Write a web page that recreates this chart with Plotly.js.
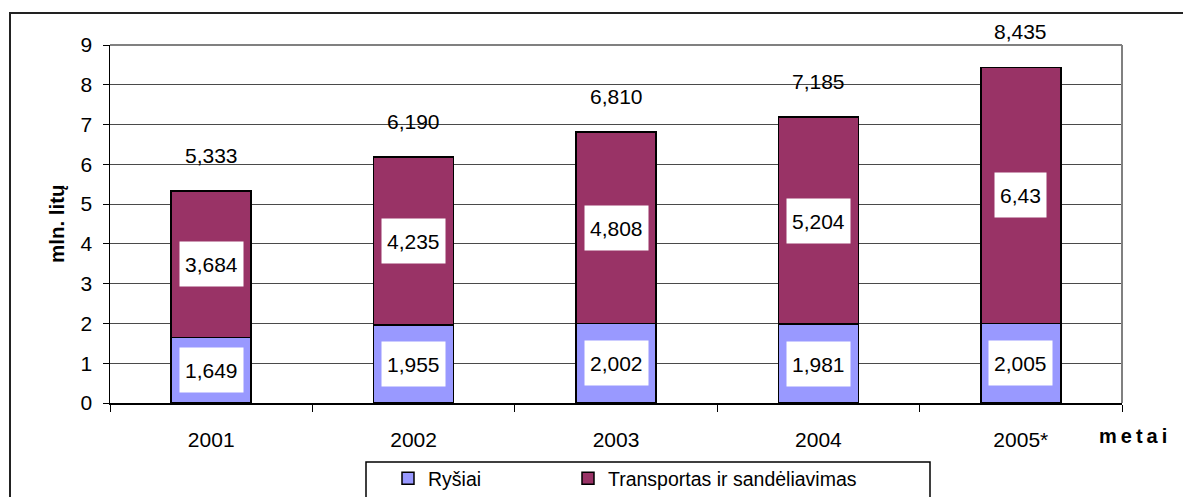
<!DOCTYPE html>
<html>
<head>
<meta charset="utf-8">
<script src="https://cdn.plot.ly/plotly-3.0.1.min.js"></script>
<style>
  html, body { margin: 0; padding: 0; background: #fff; }
  #myDiv { width: 1183px; height: 497px; }
</style>
</head>
<body>
<div id="myDiv"></div>
<script>
// duomenys (mln. litų)
let metai = ["2001", "2002", "2003", "2004", "2005*"]
let rysiai = [1.649, 1.955, 2.002, 1.981, 2.005]
let transportas = [3.684, 4.235, 4.808, 5.204, 6.43]
let yTicks = [0, 1, 2, 3, 4, 5, 6, 7, 8, 9]

let fontFam = "Liberation Sans, Arial, sans-serif"

function kablelis(v){
	return String(v).replace(".", ",")
	}

// paper coords from pixel positions of the plot area (110..1122, 45..403)
let plotL = 110, plotR = 1122, plotT = 45, plotB = 403
function px2x(p){ return (p - plotL) / (plotR - plotL) }
function px2y(p){ return (plotB - p) / (plotB - plotT) }

var data = [
	{
	x: metai,
	y: rysiai,
	name: "Ryšiai",
	type: "bar",
	legend: "legend",
	marker: { color: "#9999FF", line: { color: "#000", width: 1.5 } },
	hoverinfo: "skip"
	},
	{
	x: metai,
	y: transportas,
	name: "Transportas ir sandėliavimas",
	type: "bar",
	legend: "legend2",
	marker: { color: "#993366", line: { color: "#000", width: 1.5 } },
	hoverinfo: "skip"
	}
	]

let annotations = []
for (let i = 0; i < metai.length; i++){
	let suma = rysiai[i] + transportas[i]
	// white boxes inside the bars (x as category index)
	annotations.push({
		x: i, y: rysiai[i] / 2, xref: "x", yref: "y",
		text: kablelis(rysiai[i]), showarrow: false,
		bgcolor: "#fff", borderpad: 5, height: 34,
		font: { family: fontFam, size: 21, color: "#000" }
		})
	annotations.push({
		x: i, y: rysiai[i] + transportas[i] / 2, xref: "x", yref: "y",
		text: kablelis(transportas[i]), showarrow: false,
		bgcolor: "#fff", borderpad: 5, height: 34,
		font: { family: fontFam, size: 21, color: "#000" }
		})
	// totals above
	annotations.push({
		x: i, y: suma, xref: "x", yref: "y",
		text: suma.toFixed(3).replace(".", ","), showarrow: false,
		yanchor: "bottom", yshift: 22,
		font: { family: fontFam, size: 21, color: "#000" }
		})
	}

annotations.push({
	x: px2x(56), y: 0.5, xref: "paper", yref: "paper",
	text: "<b>mln. litų</b>", textangle: -90, showarrow: false,
	xanchor: "center", yanchor: "middle",
	font: { family: fontFam, size: 20.5, color: "#000" }
	})
annotations.push({
	x: px2x(1133), y: px2y(436), xref: "paper", yref: "paper",
	text: "<b>m\u2009e\u2009t\u2009a\u2009i</b>", showarrow: false,
	xanchor: "center", yanchor: "middle",
	font: { family: fontFam, size: 20, color: "#000" }
	})

let shapes = [
	// outer frame
	{ type: "rect", xref: "paper", yref: "paper", x0: px2x(10), x1: px2x(1300), y0: px2y(600), y1: px2y(13),
	  line: { color: "#222", width: 2 }, layer: "below" },
	// plot area border top / right (gray)
	{ type: "line", xref: "paper", yref: "paper", x0: 0, x1: 1, y0: 1, y1: 1, line: { color: "#808080", width: 2 } },
	{ type: "line", xref: "paper", yref: "paper", x0: 1, x1: 1, y0: 0, y1: 1, line: { color: "#808080", width: 2 } },
	// legend box
	{ type: "rect", xref: "paper", yref: "paper", x0: px2x(366), x1: px2x(930), y0: px2y(560), y1: px2y(462),
	  line: { color: "#000", width: 1.5 }, fillcolor: "rgba(0,0,0,0)" }
	]

let legendStyle = {
	orientation: "h",
	xanchor: "left",
	yanchor: "top",
	font: { family: fontFam, size: 19.5, color: "#000" },
	itemwidth: 30,
	bgcolor: "rgba(0,0,0,0)",
	borderwidth: 0
	}

var layout = {
	width: 1183,
	height: 497,
	margin: { l: plotL, r: 1183 - plotR, t: plotT, b: 497 - plotB, pad: 0, autoexpand: false },
	paper_bgcolor: "#fff",
	plot_bgcolor: "#fff",
	barmode: "stack",
	bargap: 0.605,
	font: { family: fontFam, size: 21, color: "#000" },
	showlegend: true,
	legend: Object.assign({}, legendStyle, { x: px2x(388), y: px2y(459) }),
	legend2: Object.assign({}, legendStyle, { x: px2x(568), y: px2y(459) }),
	xaxis: {
		type: "category",
		range: [-0.5, metai.length - 0.5],
		autorange: false,
		showgrid: false,
		zeroline: false,
		showline: true,
		linecolor: "#000",
		linewidth: 1.5,
		ticks: "outside",
		tickson: "boundaries",
		ticklen: 7,
		tickcolor: "#000",
		ticklabelstandoff: 17,
		tickangle: 0,
		tickfont: { family: fontFam, size: 21, color: "#000" }
		},
	yaxis: {
		range: [0, 9],
		autorange: false,
		tickvals: yTicks,
		showgrid: true,
		gridcolor: "#4a4a4a",
		gridwidth: 1,
		zeroline: false,
		showline: true,
		linecolor: "#000",
		linewidth: 1.5,
		ticks: "outside",
		ticklen: 6,
		tickcolor: "#000",
		ticklabelstandoff: 6,
		tickfont: { family: fontFam, size: 21, color: "#000" }
		},
	annotations: annotations,
	shapes: shapes
	}

Plotly.newPlot("myDiv", data, layout, { staticPlot: true, displayModeBar: false })
</script>
</body>
</html>
